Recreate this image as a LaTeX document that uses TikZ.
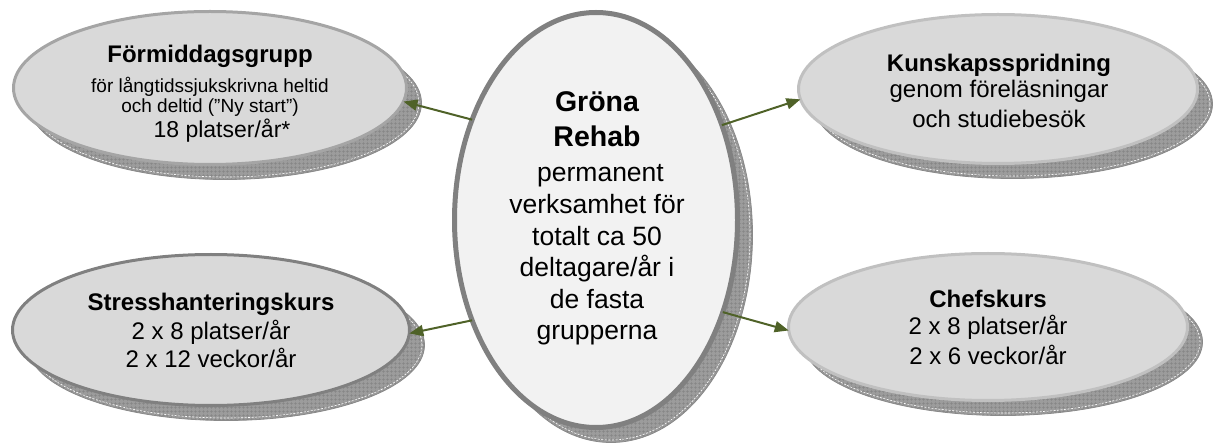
\documentclass[tikz,border=0pt]{standalone}
\usepackage{fontspec}
\setmainfont{Liberation Sans}
\usetikzlibrary{shapes.geometric,arrows.meta,patterns.meta}
\definecolor{shfill}{HTML}{9C9C9C}
\definecolor{shgrid}{HTML}{858585}
\definecolor{shedge}{HTML}{8A8A8A}
\definecolor{sidefill}{HTML}{D9D9D9}
\definecolor{centfill}{HTML}{F2F2F2}
\definecolor{bdark}{HTML}{808080}
\definecolor{bmid}{HTML}{A5A5A5}
\definecolor{blight}{HTML}{C0C0C0}
\definecolor{arrgreen}{HTML}{4F6228}
\tikzset{
  shadowell/.style={preaction={fill=shfill}, pattern={Hatch[angle=0,distance=4pt,line width=0.6pt]}, pattern color=shgrid, draw=shedge, line width=0.8pt},
  shadowdash/.style={draw=white, dashed, dash pattern=on 2pt off 1.5pt, line width=0.6pt},
  sideell/.style={ellipse, fill=sidefill, line width=3pt, inner sep=0pt, outer sep=0pt},
  centell/.style={ellipse, fill=centfill, draw=bdark, line width=5pt, inner sep=0pt, outer sep=0pt},
  txt/.style={align=center, anchor=base, inner sep=0pt, font=\fontsize{24}{28}\selectfont},
  conn/.style={draw=arrgreen, line width=2pt, -{Triangle[length=14pt,width=11pt]}}
}
\begin{document}
\begin{tikzpicture}[x=1pt,y=-1pt]
\useasboundingbox (0,0) rectangle (1215,443);
% shadows
\path[shadowell] (225,103) ellipse [x radius=196.5pt, y radius=76.5pt];
\path[shadowdash] (225,103) ellipse [x radius=194pt, y radius=74pt];
\path[shadowell] (1013,104) ellipse [x radius=199.5pt, y radius=74.5pt];
\path[shadowdash] (1013,104) ellipse [x radius=197pt, y radius=72pt];
\path[shadowell] (226,345) ellipse [x radius=198.5pt, y radius=75.5pt];
\path[shadowdash] (226,345) ellipse [x radius=196pt, y radius=73pt];
\path[shadowell] (1003,342) ellipse [x radius=199.5pt, y radius=73.5pt];
\path[shadowdash] (1003,342) ellipse [x radius=197pt, y radius=71pt];
\path[shadowell] (611,235) ellipse [x radius=141.5pt, y radius=207.5pt];
\path[shadowdash] (611,235) ellipse [x radius=139pt, y radius=205pt];
% ellipses
\node[sideell, draw=bmid, minimum width=393pt, minimum height=153pt] (tl) at (210,88) {};
\node[sideell, draw=blight, minimum width=399pt, minimum height=149pt] (tr) at (998,89) {};
\node[sideell, draw=bdark, minimum width=397pt, minimum height=151pt] (bl) at (211,330) {};
\node[sideell, draw=blight, minimum width=399pt, minimum height=147pt] (br) at (988,327) {};
\node[centell, minimum width=283pt, minimum height=415pt] (c) at (596,220) {};
% texts (base anchor = baseline of last line)
\node[txt] (tlt) at (210,138) {\bfseries Förmiddagsgrupp\\[2pt]
  {\fontsize{19}{20}\selectfont för långtidssjukskrivna heltid}\\[-8pt]
  {\fontsize{19}{20}\selectfont och deltid (”Ny start”)}\\[-3pt]
  \hspace*{24pt}{\fontsize{23}{26}\selectfont 18 platser/år*}};
\node[txt] (trt) at (999,128) {\bfseries Kunskapsspridning\\[-2pt]
  genom föreläsningar\\[2pt]
  och studiebesök};
\node[txt] (blt) at (211,367) {\bfseries Stresshanteringskurs\\[1pt]
  2 x 8 platser/år\\
  2 x 12 veckor/år};
\node[txt] (brt) at (988,365) {\bfseries Chefskurs\\
  2 x 8 platser/år\\[2pt]
  2 x 6 veckor/år};
\node[txt, font=\fontsize{26.5}{31.6}\selectfont] (ct) at (597,340) {{\bfseries\fontsize{28.5}{35}\selectfont Gröna}\\[3.4pt]
  {\bfseries\fontsize{28.5}{35}\selectfont Rehab}\\[3.4pt]
  \hspace*{7pt}permanent\\
  verksamhet för\\
  totalt ca 50\\
  deltagare/år i\\
  de fasta\\
  grupperna};
% connectors
\draw[conn] (c.141.5) -- (tl.-4.3);
\draw[conn] (c.-141.2) -- (bl.-1);
\draw[conn] (c.37.4) -- (tr.183.2);
\draw[conn] (c.-36.3) -- (br.181.5);
\end{tikzpicture}
\end{document}
